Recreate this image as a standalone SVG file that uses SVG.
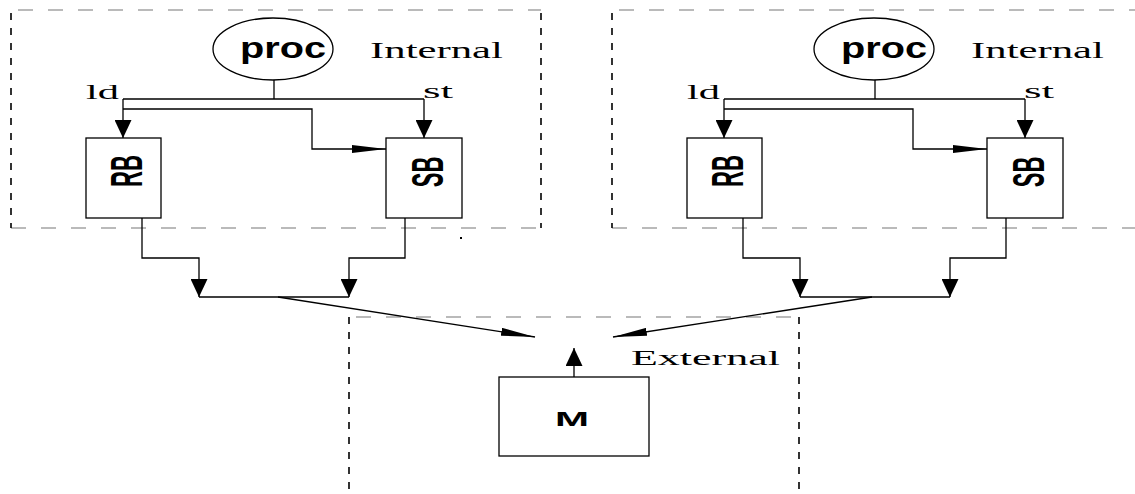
<svg xmlns="http://www.w3.org/2000/svg" width="1135" height="494" viewBox="0 0 1135 494">
  <style>
    .bg { fill: #ffffff; }
    .box { fill: #ffffff; stroke: #000000; stroke-width: 1.3; }
    .wire { fill: none; stroke: #000000; stroke-width: 1.3; }
    .dashH { fill: none; stroke: #777777; stroke-width: 1.2; stroke-dasharray: 15 15; }
    .dashV { fill: none; stroke: #000000; stroke-width: 1.6; stroke-dasharray: 7 8; }
    .sans { font-family: "Liberation Sans", Arial, sans-serif; font-weight: bold; fill: #000000; }
    .serif { font-family: "Liberation Serif", "Times New Roman", serif; fill: #000000; }
  </style>
  <defs>
    <!-- broad head for vertical wires -->
    <marker id="arrowV" markerUnits="userSpaceOnUse" viewBox="0 0 18 17" refX="18" refY="8.5" markerWidth="18" markerHeight="17" orient="auto">
      <path d="M0,0 L18,8.5 L0,17 Z" fill="#000000"/>
    </marker>
    <!-- long slim head for horizontal wires -->
    <marker id="arrowH" markerUnits="userSpaceOnUse" viewBox="0 0 34 8" refX="34" refY="4" markerWidth="34" markerHeight="8" orient="auto">
      <path d="M0,0 L34,4 L0,8 Z" fill="#000000"/>
    </marker>
  </defs>

  <rect class="bg" x="0" y="0" width="1135" height="494"/>

  <!-- dashed domain outlines -->
  <g id="regions">
    <g id="internal-left">
      <line class="dashH" x1="18" y1="10" x2="541" y2="10"/>
      <line class="dashH" x1="11" y1="228" x2="541" y2="228"/>
      <line class="dashV" x1="11" y1="13" x2="11" y2="228"/>
      <line class="dashV" x1="541" y1="13" x2="541" y2="228"/>
    </g>
    <g id="internal-right">
      <line class="dashH" x1="619" y1="10" x2="1135" y2="10"/>
      <line class="dashH" x1="612" y1="228" x2="1135" y2="228"/>
      <line class="dashV" x1="612" y1="13" x2="612" y2="228"/>
    </g>
    <g id="external">
      <line class="dashH" x1="356" y1="317" x2="799" y2="317"/>
      <line class="dashV" x1="349" y1="317" x2="349" y2="494"/>
      <line class="dashV" x1="799" y1="317" x2="799" y2="494"/>
    </g>
    <rect x="460" y="237" width="2" height="2" fill="#000000"/>
  </g>

  <!-- wiring -->
  <g id="connectors">
    <!-- left processor -->
    <line class="wire" x1="274" y1="80" x2="274" y2="99"/>
    <line class="wire" x1="123" y1="99" x2="424" y2="99"/>
    <line class="wire" x1="123" y1="99" x2="123" y2="138" marker-end="url(#arrowV)"/>
    <line class="wire" x1="424" y1="99" x2="424" y2="138" marker-end="url(#arrowV)"/>
    <polyline class="wire" points="123,109 312,109 312,149 386,149" marker-end="url(#arrowH)"/>
    <polyline class="wire" points="142,218 142,258 199,258 199,297" marker-end="url(#arrowV)"/>
    <polyline class="wire" points="405,218 405,258 349,258 349,297" marker-end="url(#arrowV)"/>
    <line class="wire" x1="199" y1="297" x2="349" y2="297"/>
    <line class="wire" x1="278" y1="297" x2="535" y2="337" marker-end="url(#arrowH)"/>

    <!-- right processor -->
    <line class="wire" x1="875" y1="80" x2="875" y2="99"/>
    <line class="wire" x1="724" y1="99" x2="1025" y2="99"/>
    <line class="wire" x1="724" y1="99" x2="724" y2="138" marker-end="url(#arrowV)"/>
    <line class="wire" x1="1025" y1="99" x2="1025" y2="138" marker-end="url(#arrowV)"/>
    <polyline class="wire" points="724,109 913,109 913,149 987,149" marker-end="url(#arrowH)"/>
    <polyline class="wire" points="743,218 743,258 800,258 800,297" marker-end="url(#arrowV)"/>
    <polyline class="wire" points="1006,218 1006,258 950,258 950,297" marker-end="url(#arrowV)"/>
    <line class="wire" x1="800" y1="297" x2="950" y2="297"/>
    <line class="wire" x1="872" y1="297" x2="613" y2="337" marker-end="url(#arrowH)"/>

    <!-- memory output -->
    <line class="wire" x1="574" y1="377" x2="574" y2="348" marker-end="url(#arrowV)"/>
  </g>

  <!-- left side nodes -->
  <g id="proc-left">
    <ellipse class="box" cx="273" cy="49" rx="60" ry="31"/>
    <text class="sans" x="240" y="58" font-size="29" textLength="86" lengthAdjust="spacingAndGlyphs">proc</text>
  </g>
  <g id="rb-left">
    <rect class="box" x="86" y="138" width="75" height="80"/>
    <text class="sans" font-size="22" text-anchor="middle" transform="translate(142,171) scale(2,1) rotate(-90)">RB</text>
  </g>
  <g id="sb-left">
    <rect class="box" x="386" y="138" width="76" height="80"/>
    <text class="sans" font-size="22" text-anchor="middle" transform="translate(443,172) scale(2,1) rotate(-90)">SB</text>
  </g>

  <!-- right side nodes -->
  <g id="proc-right">
    <ellipse class="box" cx="874" cy="49" rx="60" ry="31"/>
    <text class="sans" x="841" y="58" font-size="29" textLength="86" lengthAdjust="spacingAndGlyphs">proc</text>
  </g>
  <g id="rb-right">
    <rect class="box" x="687" y="138" width="75" height="80"/>
    <text class="sans" font-size="22" text-anchor="middle" transform="translate(743,171) scale(2,1) rotate(-90)">RB</text>
  </g>
  <g id="sb-right">
    <rect class="box" x="987" y="138" width="76" height="80"/>
    <text class="sans" font-size="22" text-anchor="middle" transform="translate(1044,172) scale(2,1) rotate(-90)">SB</text>
  </g>

  <!-- shared memory -->
  <g id="memory">
    <rect class="box" x="499" y="377" width="150" height="79"/>
    <text class="sans" x="555" y="426" font-size="21" textLength="34" lengthAdjust="spacingAndGlyphs">M</text>
  </g>

  <!-- labels -->
  <g id="labels">
    <text class="serif" x="370" y="58" font-size="22.5" textLength="133" lengthAdjust="spacingAndGlyphs">Internal</text>
    <text class="serif" x="86" y="99" font-size="22" textLength="33" lengthAdjust="spacingAndGlyphs">ld</text>
    <text class="serif" x="423" y="98" font-size="22" textLength="30" lengthAdjust="spacingAndGlyphs">st</text>
    <text class="serif" x="971" y="58" font-size="22.5" textLength="133" lengthAdjust="spacingAndGlyphs">Internal</text>
    <text class="serif" x="687" y="99" font-size="22" textLength="33" lengthAdjust="spacingAndGlyphs">ld</text>
    <text class="serif" x="1024" y="98" font-size="22" textLength="30" lengthAdjust="spacingAndGlyphs">st</text>
    <text class="serif" x="631" y="365" font-size="21.6" textLength="149" lengthAdjust="spacingAndGlyphs">External</text>
  </g>
</svg>
